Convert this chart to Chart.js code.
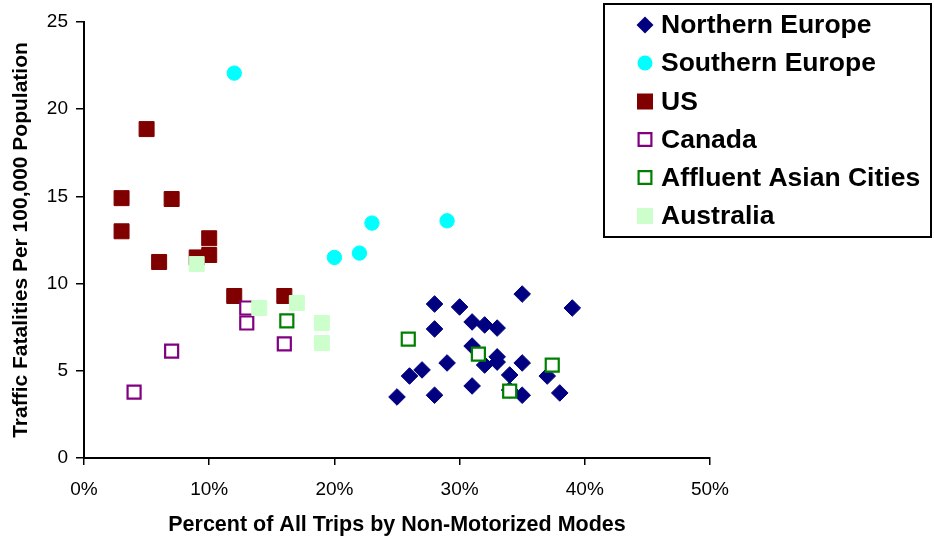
<!DOCTYPE html>
<html><head><meta charset="utf-8">
<script src="https://cdn.jsdelivr.net/npm/chart.js@4"></script>
<style>html,body{margin:0;padding:0;background:#fff}</style>
</head><body>
<canvas id="c" width="934" height="540"></canvas>
<script>
// ---- data ----
const seriesNames = ["Northern Europe","Southern Europe","US","Canada","Affluent Asian Cities","Australia"];
const xTickValues = [0,10,20,30,40,50];
const yTickValues = [0,5,10,15,20,25];

const northernX = [35,28,30,39,31,32,33,28,31,29,32,33,33,27,26,35,34,37,31,25,28,34,35,38];
const northernY = [9.4,8.83,8.66,8.6,7.8,7.63,7.45,7.4,6.42,5.45,5.33,5.8,5.5,5.05,4.7,5.45,4.76,4.7,4.13,3.5,3.6,3.9,3.6,3.73];

const southernX = [12,20,22,23,29];
const southernY = [22.07,11.5,11.75,13.47,13.6];

const usX = [5,3,7,3,6,10,10,9,12,16];
const usY = [18.86,14.9,14.85,13.0,11.24,12.6,11.64,11.5,9.29,9.29];

const canadaX = [13,13,7,4,16];
const canadaY = [8.6,7.74,6.13,3.78,6.54];

const asianX = [16.2,25.9,31.5,37.4,34];
const asianY = [7.86,6.82,5.96,5.33,3.84];

const australiaX = [9,14,17,19,19];
const australiaY = [11.12,8.6,8.89,7.74,6.59];

function pts(xs, ys){ return xs.map((x,i)=>({x:x, y:ys[i]})); }

const FONT = '"Liberation Sans", Arial, sans-serif';

const styles = [
  {pointStyle:'rectRot', pointRadius:8.3, backgroundColor:'#000080', borderColor:'#000080', borderWidth:1},
  {pointStyle:'circle', pointRadius:7.2, backgroundColor:'#00FFFF', borderColor:'#00FFFF', borderWidth:1},
  {pointStyle:'rect', pointRadius:10.6, backgroundColor:'#800000', borderColor:'#800000', borderWidth:1},
  {pointStyle:'rect', pointRadius:9.2, backgroundColor:'#FFFFFF', borderColor:'#800080', borderWidth:2.2},
  {pointStyle:'rect', pointRadius:9.2, backgroundColor:'#FFFFFF', borderColor:'#008000', borderWidth:2.2},
  {pointStyle:'rect', pointRadius:10.6, backgroundColor:'#CCFFCC', borderColor:'#CCFFCC', borderWidth:1}
];
const allData = [pts(northernX,northernY), pts(southernX,southernY), pts(usX,usY),
                 pts(canadaX,canadaY), pts(asianX,asianY), pts(australiaX,australiaY)];

const datasets = seriesNames.map((name,i)=>Object.assign({
  label:name, data:allData[i], order: 6-i, showLine:false
}, styles[i]));

const legendPlugin = {
  id:'boxLegend',
  afterDraw(chart){
    const ctx = chart.ctx;
    ctx.save();
    const bx=604, by=4, bw=327, bh=233;
    ctx.fillStyle='#fff';
    ctx.fillRect(bx,by,bw,bh);
    ctx.lineWidth=2; ctx.strokeStyle='#000';
    ctx.strokeRect(bx,by,bw,bh);
    const rows=[25,63,101.5,139.5,177.5,216];
    const legendSizes=[{r:8.5},{r:7.5},{r:8},{r:7.5},{r:7.5},{r:8}];
    chart.data.datasets.forEach((ds,i)=>{
      const y=rows[i], x=645;
      ctx.fillStyle=ds.backgroundColor; ctx.strokeStyle=ds.borderColor;
      const st=ds.pointStyle, r=legendSizes[i].r;
      ctx.beginPath();
      if(st==='rectRot'){
        ctx.moveTo(x,y-r); ctx.lineTo(x+r,y); ctx.lineTo(x,y+r); ctx.lineTo(x-r,y); ctx.closePath();
        ctx.fill();
      } else if(st==='circle'){
        ctx.arc(x,y,r,0,Math.PI*2); ctx.fill();
      } else {
        if(ds.backgroundColor==='#FFFFFF'){
          ctx.lineWidth=2.2;
          ctx.rect(x-r+1.1,y-r+1.1,2*r-2.2,2*r-2.2); ctx.fill(); ctx.stroke();
        } else {
          ctx.rect(x-r,y-r,2*r,2*r); ctx.fill();
        }
      }
      ctx.fillStyle='#000';
      ctx.font='bold 26.5px '+FONT;
      ctx.textBaseline='middle';
      ctx.textAlign='left';
      ctx.fillText(ds.label,661,y+1);
    });
    ctx.restore();
  }
};

new Chart(document.getElementById('c'), {
  type:'scatter',
  data:{datasets:datasets},
  options:{
    responsive:false,
    animation:false,
    events:[],
    layout:{padding:{left:0,right:224,top:22,bottom:0}},
    plugins:{legend:{display:false}, tooltip:{enabled:false}},
    scales:{
      x:{
        type:'linear', min:0, max:50,
        afterBuildTicks(s){ s.ticks = xTickValues.map(v=>({value:v})); },
        afterFit(s){ s.height = 82; },
        ticks:{color:'#000', font:{family:FONT,size:19}, padding:13, callback:v=>v+'%'},
        grid:{display:true, drawOnChartArea:false, drawTicks:true, tickLength:7, color:'#000', lineWidth:1.5},
        border:{display:true, color:'#000', width:2},
        title:{display:true, text:'Percent of All Trips by Non-Motorized Modes', color:'#000',
               font:{family:FONT,size:21.5,weight:'bold'}, padding:{top:4,bottom:2}}
      },
      y:{
        type:'linear', min:0, max:25,
        afterBuildTicks(s){ s.ticks = yTickValues.map(v=>({value:v})); },
        afterFit(s){ s.width = 84; },
        ticks:{color:'#000', font:{family:FONT,size:19}, padding:8},
        grid:{display:true, drawOnChartArea:false, drawTicks:true, tickLength:8, color:'#000', lineWidth:1.5},
        border:{display:true, color:'#000', width:2},
        title:{display:true, text:'Traffic Fatalities Per 100,000 Population', color:'#000',
               font:{family:FONT,size:21,weight:'bold'}, padding:{top:9,bottom:4}}
      }
    }
  },
  plugins:[legendPlugin]
});
</script>
</body></html>
